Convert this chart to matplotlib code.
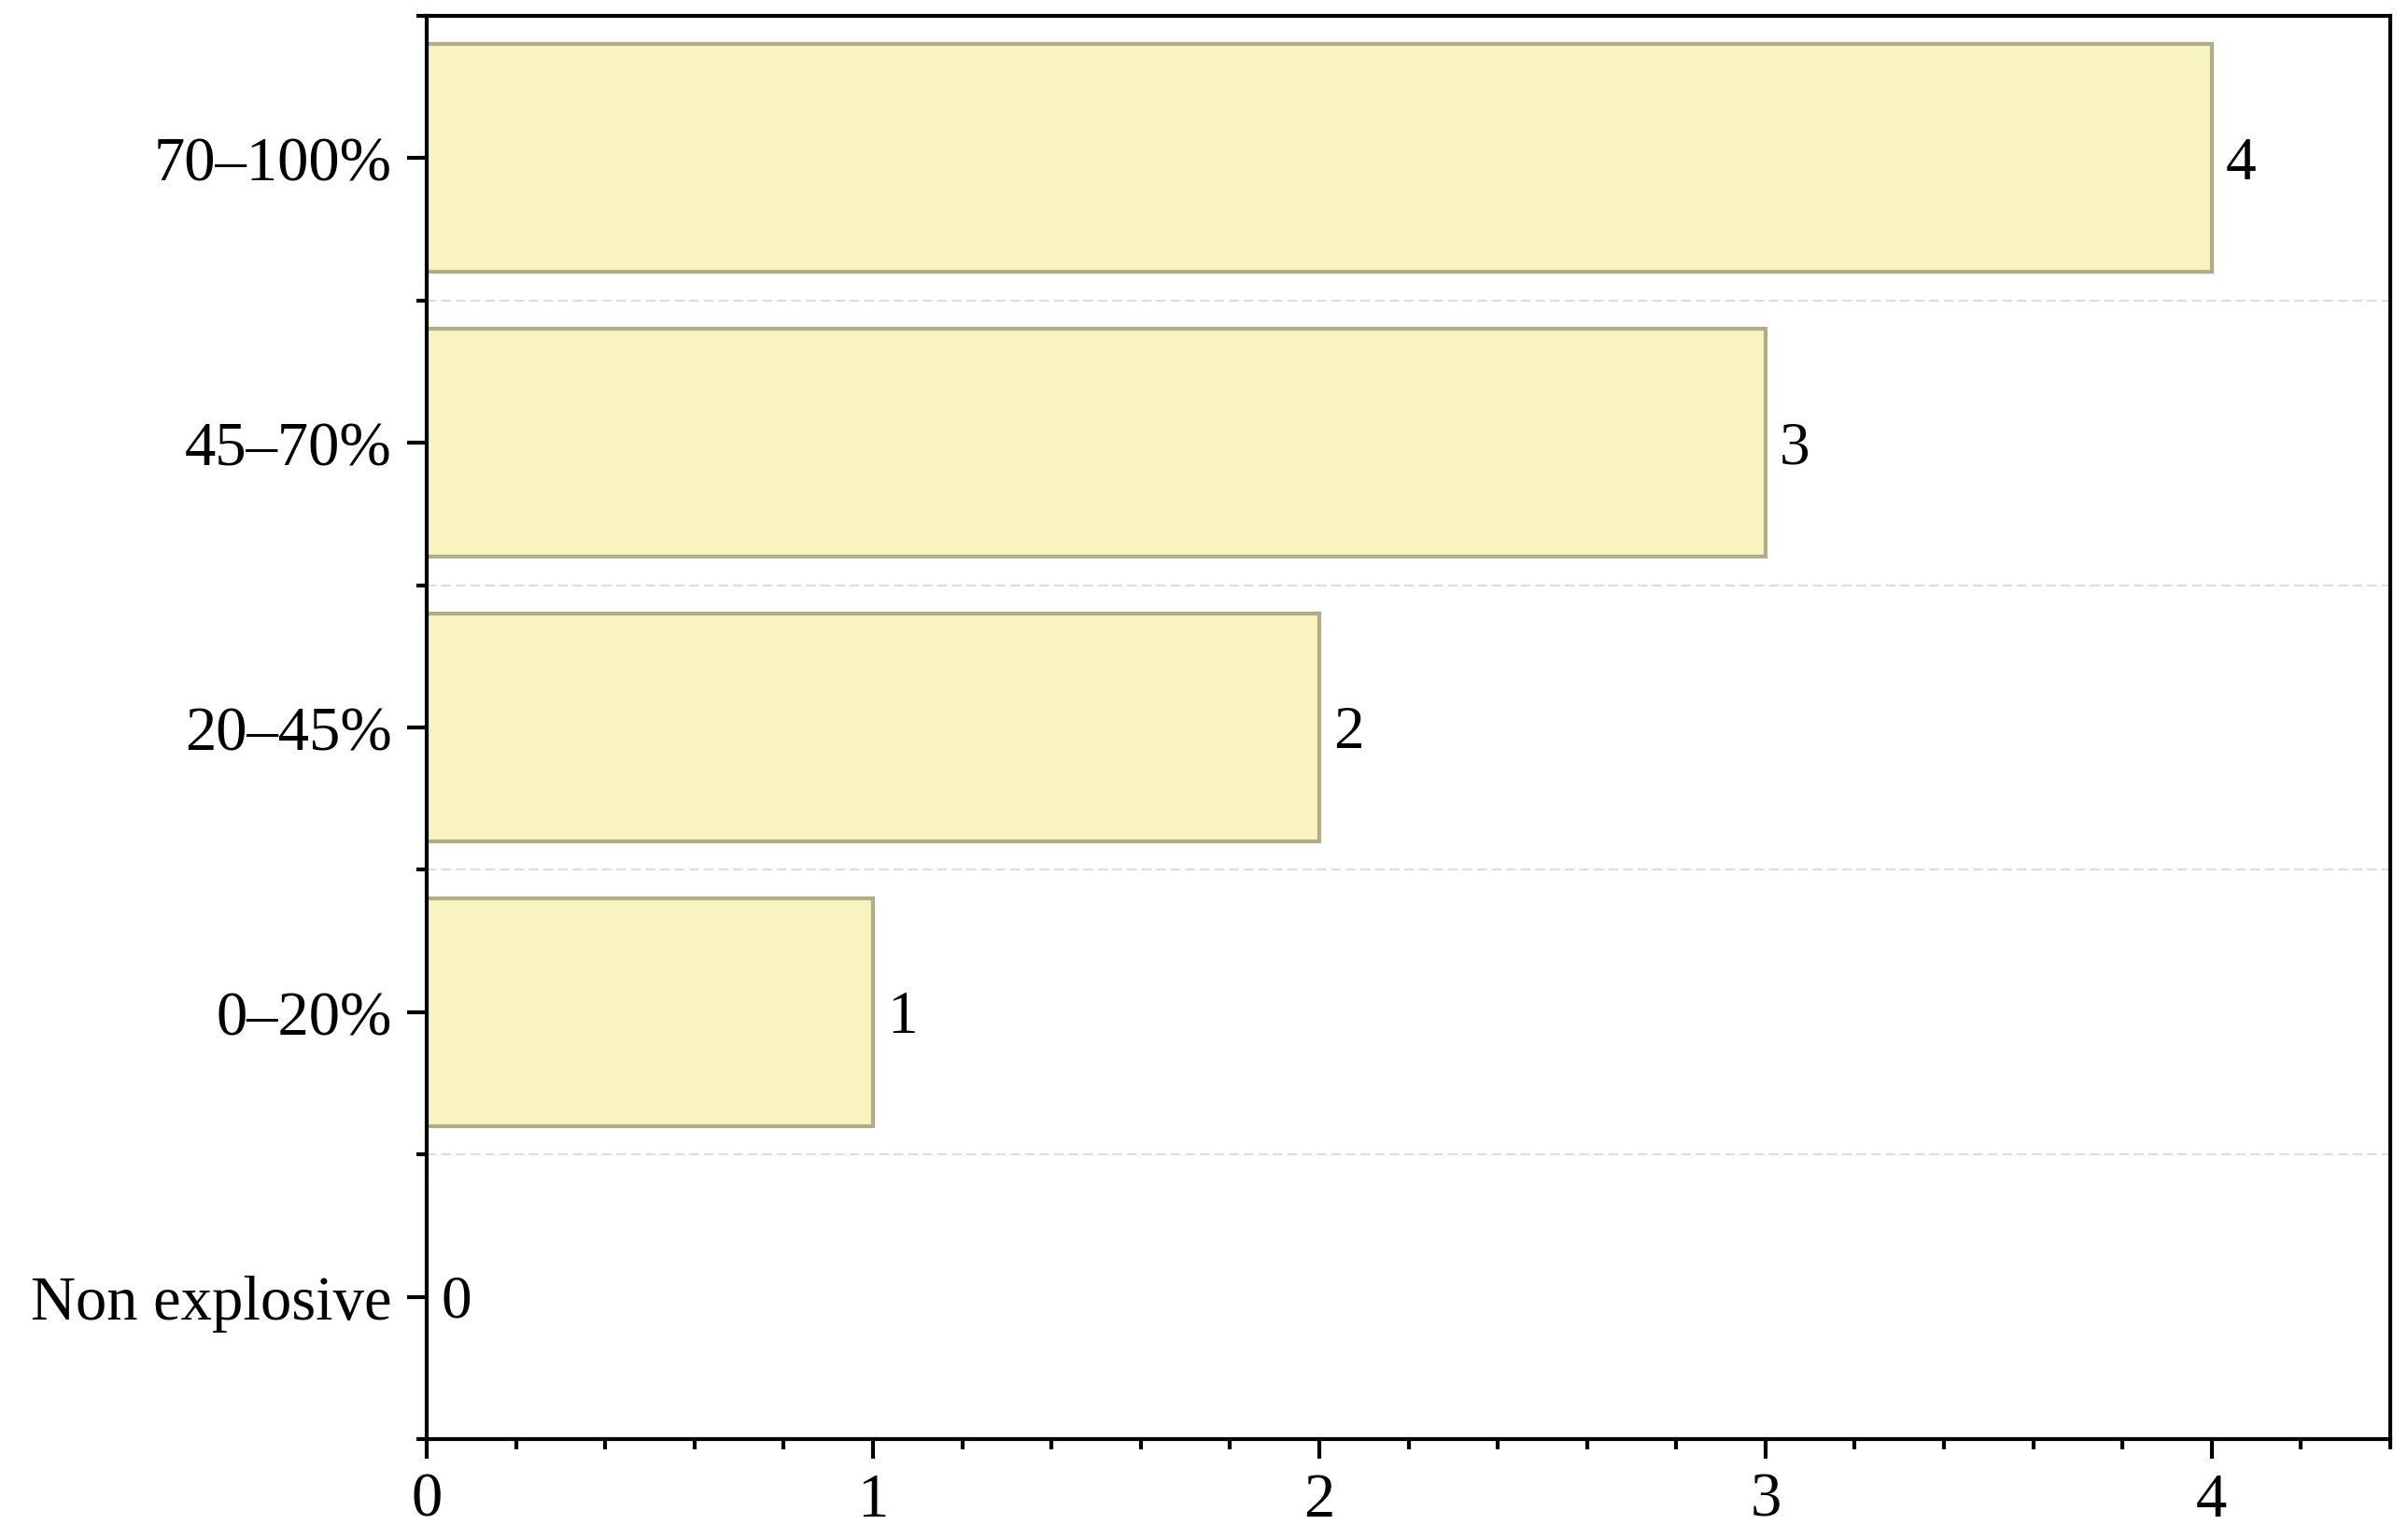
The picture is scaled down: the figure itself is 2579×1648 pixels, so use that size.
import matplotlib
matplotlib.use("Agg")
import matplotlib.pyplot as plt
from matplotlib.ticker import MultipleLocator, FixedLocator

categories = ["Non explosive", "0\u201320%", "20\u201345%", "45\u201370%", "70\u2013100%"]
counts = [0, 1, 2, 3, 4]

plt.rcParams['font.family'] = ['Liberation Serif', 'DejaVu Serif']

fig = plt.figure(figsize=(25.79, 16.49), dpi=100)
ax = fig.add_axes([457/2579, 1 - 1542/1649, (2560 - 457)/2579, (1542 - 18)/1649])

ypos = list(range(len(categories)))
bars = ax.barh(ypos, counts, height=0.8, color="#F9F4BF", edgecolor="#B0AC86",
               linewidth=3, zorder=3)
for y, c in zip(ypos, counts):
    ax.annotate(str(c), xy=(c, y), xytext=(11, -4), textcoords='offset points',
                ha='left', va='center', fontsize=47, zorder=4)

ax.set_xlim(0, 4.4)
ax.set_ylim(-0.5, 4.5)
ax.set_yticks(ypos)
ax.set_yticklabels(categories)
ax.yaxis.set_minor_locator(FixedLocator([-0.5, 0.5, 1.5, 2.5, 3.5, 4.5]))
ax.xaxis.set_major_locator(MultipleLocator(1))
ax.xaxis.set_minor_locator(MultipleLocator(0.2))

ax.grid(axis='y', which='minor', color='#DDDDDD', linewidth=1.5,
        linestyle=(0, (5, 2.5)), zorder=1)
ax.grid(axis='y', which='major', visible=False)
ax.grid(axis='x', visible=False)

for s in ax.spines.values():
    s.set_linewidth(3)
    s.set_color('black')
    s.set_zorder(6)

ax.tick_params(axis='both', which='major', direction='out', length=15, width=3,
               labelsize=48, color='black')
ax.tick_params(axis='y', which='major', pad=12)
ax.tick_params(axis='x', which='major', pad=10)
ax.tick_params(axis='both', which='minor', direction='out', length=8, width=3)
ax.tick_params(top=False, right=False, which='both')

fig.savefig("out.png", dpi=100)
